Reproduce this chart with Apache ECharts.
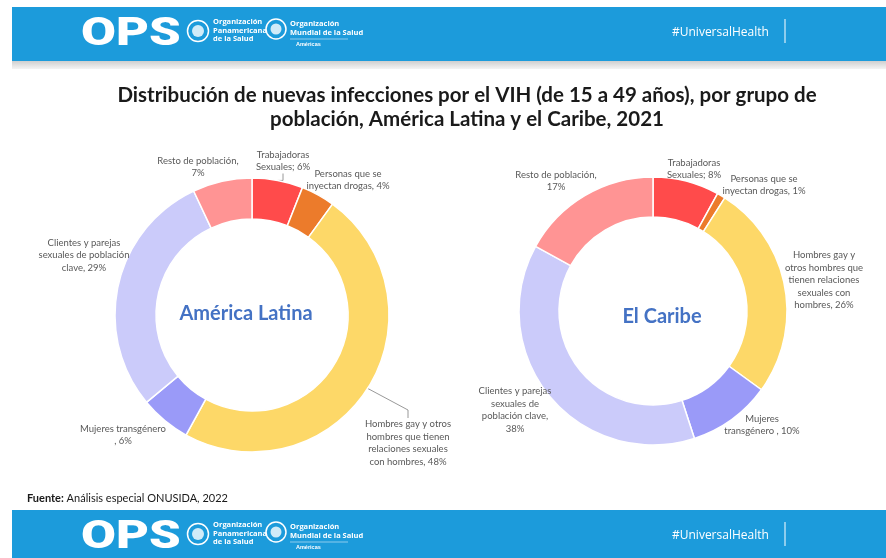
<!DOCTYPE html>
<html><head><meta charset="utf-8">
<script src="https://cdn.jsdelivr.net/npm/echarts@6/dist/echarts.min.js"></script>
<style>html,body{margin:0;padding:0;background:#fff}#c{width:886px;height:558px}</style>
</head><body><div id="c"></div>
<script>
// ---- data ----
const categories = ['Trabajadoras Sexuales', 'Personas que se inyectan drogas', 'Hombres gay y otros hombres que tienen relaciones sexuales con hombres', 'Mujeres transgénero', 'Clientes y parejas sexuales de población clave', 'Resto de población'];
const latinValues = [6, 4, 48, 6, 29, 7];
const caribeValues = [8, 1, 26, 10, 38, 17];
const latinLabels = ['Trabajadoras\nSexuales; {v}%', 'Personas que se\ninyectan drogas, {v}%', 'Hombres gay y otros\nhombres que tienen\nrelaciones sexuales\ncon hombres, {v}%', 'Mujeres transgénero\n, {v}%', 'Clientes y parejas\nsexuales de población\nclave, {v}%', 'Resto de población,\n{v}%'];
const caribeLabels = ['Trabajadoras\nSexuales; {v}%', 'Personas que se\ninyectan drogas, {v}%', 'Hombres gay y\notros hombres que\ntienen relaciones\nsexuales con\nhombres, {v}%', 'Mujeres\ntransgénero , {v}%', 'Clientes y parejas\nsexuales de\npoblación clave,\n{v}%', 'Resto de población,\n{v}%'];
const titleText = 'Distribución de nuevas infecciones por el VIH (de 15 a 49 años), por grupo de\npoblación, América Latina y el Caribe, 2021';

// ---- styles / layout ----
const colors = ['#FF4B4B', '#EC7B2B', '#FDD868', '#9A9AF8', '#CBCBFA', '#FF9494'];
const latinLabelPos = [[283,161],[348,180],[408,443],[123,435],[84,255],[198,167]];
const caribeLabelPos = [[694,169],[764,185],[824,280],[762,425],[515,410],[556,181]];
const latinLines = [true, false, true, false, false, false];
const caribeLines = [false, false, false, false, false, false];
const labelFont = 'Lato, "Open Sans", sans-serif';

function buildData(values, labels, lines) {
  return values.map((v, i) => ({
    value: v, name: categories[i],
    itemStyle: { color: colors[i] },
    label: { formatter: labels[i].replace('{v}', v) },
    labelLine: { show: lines[i] }
  }));
}
function pieSeries(values, labels, lines, center, radius, pos) {
  return {
    type: 'pie', center: center, radius: radius, startAngle: 90, clockwise: true,
    avoidLabelOverlap: false, silent: true,
    itemStyle: { borderColor: '#fff', borderWidth: 1.5 },
    label: { show: true, position: 'outside', color: '#595959', fontSize: 9.5, lineHeight: 12.5, fontFamily: labelFont, align: 'center' },
    labelLine: { show: false, length: 8, length2: 8, lineStyle: { color: '#7f7f7f', width: 0.8 } },
    labelLayout: function (p) {
      const q = pos[p.dataIndex];
      return { x: q[0], y: q[1], align: 'center', verticalAlign: 'middle' };
    },
    data: buildData(values, labels, lines)
  };
}

const chart = echarts.init(document.getElementById('c'), null, { renderer: 'canvas' });
const blue = '#1C9BDB';
function banner(y, h) {
  return [
    { type: 'rect', shape: { x: 12, y: y, width: 874, height: h }, style: { fill: blue } },
    { type: 'text', x: 81, y: y + 9, scaleX: 1.3, style: { x: 0, y: 0, text: 'OPS', fill: '#fff', font: '900 39px Roboto, "DejaVu Sans", sans-serif' } },
    { type: 'circle', shape: { cx: 198, cy: y + 24, r: 10.5 }, style: { fill: 'none', stroke: '#fff', lineWidth: 1.5 } },
    { type: 'circle', shape: { cx: 198, cy: y + 24, r: 6 }, style: { fill: '#fff', opacity: 0.8 } },
    { type: 'text', style: { x: 213, y: y + 11, text: 'Organización\nPanamericana\nde la Salud', fill: '#fff', font: 'bold 7.5px "Liberation Sans Narrow", "Open Sans", sans-serif', lineHeight: 8.5 } },
    { type: 'circle', shape: { cx: 276, cy: y + 22, r: 10 }, style: { fill: 'none', stroke: '#fff', lineWidth: 1.5 } },
    { type: 'circle', shape: { cx: 276, cy: y + 22, r: 5.5 }, style: { fill: '#fff', opacity: 0.8 } },
    { type: 'text', style: { x: 290, y: y + 13, text: 'Organización\nMundial de la Salud', fill: '#fff', font: 'bold 7.5px "Liberation Sans Narrow", "Open Sans", sans-serif', lineHeight: 8.5 } },
    { type: 'line', shape: { x1: 290, y1: y + 32, x2: 348, y2: y + 32 }, style: { stroke: '#fff', lineWidth: 0.5 } },
    { type: 'text', style: { x: 296, y: y + 34, text: 'Américas', fill: '#fff', font: 'bold 5.5px sans-serif' } },
    { type: 'text', style: { x: 672, y: y + 20, text: '#UniversalHealth', fill: '#fff', font: '12px "Open Sans", sans-serif' } },
    { type: 'line', shape: { x1: 785, y1: y + 12, x2: 785, y2: y + 36 }, style: { stroke: '#fff', lineWidth: 1 } }
  ];
}
const graphics = [].concat(
  banner(7, 54),
  [{ type: 'rect', shape: { x: 12, y: 61, width: 874, height: 8 },
     style: { fill: new echarts.graphic.LinearGradient(0, 0, 0, 1, [{ offset: 0, color: '#cfcfcf' }, { offset: 1, color: '#f4f4f4' }]) } }],
  banner(510, 48),
  [{ type: 'text', style: { x: 27, y: 493, text: '{b|Fuente:} Análisis especial ONUSIDA, 2022', font: '11px Lato, "Open Sans", sans-serif', fill: '#1a1a1a', rich: { b: { fontWeight: 'bold', fontSize: 11, fontFamily: 'Lato, "Open Sans", sans-serif', fill: '#1a1a1a' } } } }]
);

chart.setOption({
  animation: false,
  title: [
    { text: titleText, left: 462, top: 79, textAlign: 'center',
      textStyle: { fontSize: 20.5, fontWeight: 'bold', color: '#1a1a1a', fontFamily: 'Lato, "Open Sans", sans-serif', lineHeight: 23.5 } },
    { text: 'América Latina', left: 241, top: 299, textAlign: 'center',
      textStyle: { fontSize: 20, fontWeight: 'bold', color: '#4472C4', fontFamily: 'Lato, "Open Sans", sans-serif' } },
    { text: 'El Caribe', left: 657, top: 302, textAlign: 'center',
      textStyle: { fontSize: 20, fontWeight: 'bold', color: '#4472C4', fontFamily: 'Lato, "Open Sans", sans-serif' } }
  ],
  graphic: graphics,
  series: [
    pieSeries(latinValues, latinLabels, latinLines, [252, 315], [96, 137], latinLabelPos),
    pieSeries(caribeValues, caribeLabels, caribeLines, [653, 311], [94, 134], caribeLabelPos)
  ]
});
</script></body></html>
